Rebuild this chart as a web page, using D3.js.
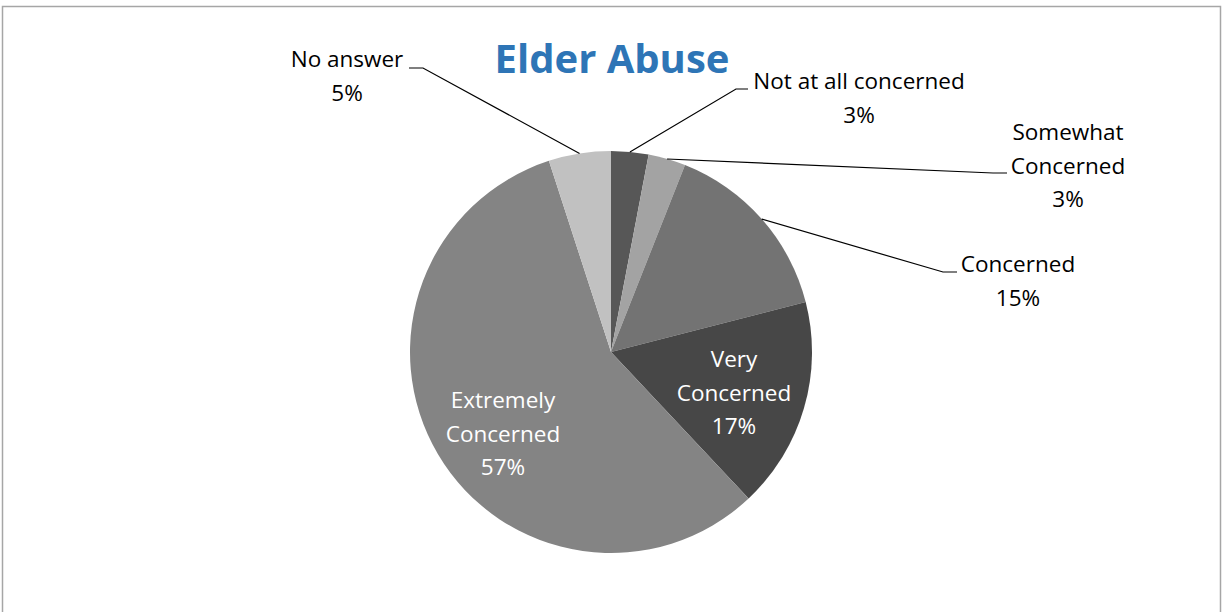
<!DOCTYPE html>
<html>
<head>
<meta charset="utf-8">
<script src="https://cdn.jsdelivr.net/npm/d3@7"></script>
<style>
  html, body { margin: 0; padding: 0; background: #fff; }
  svg { display: block; }
  text { font-family: "Open Sans", "Liberation Sans", sans-serif; }
</style>
</head>
<body>
<svg id="chart" width="1225" height="612"></svg>
<script>
// Survey answers, drawn clockwise from 12 o'clock
const categories = ["Not at all concerned", "Somewhat Concerned", "Concerned", "Very Concerned", "Extremely Concerned", "No answer"];
const percents   = [3, 3, 15, 17, 57, 5];
const sliceColors = ["#575757", "#a3a3a3", "#737373", "#474747", "#848484", "#c1c1c1"];
const titleText = "Elder Abuse";

// Label layout: outside labels get a leader line, inside labels are white
const labelLayout = [
  { lines: ["Not at all concerned", "3%"], x: 859, y: 89,  anchor: [748, 89],  elbow: [736, 89],  inside: false },
  { lines: ["Somewhat", "Concerned", "3%"], x: 1068, y: 140, anchor: [1007, 173], elbow: [993, 173], inside: false },
  { lines: ["Concerned", "15%"], x: 1018, y: 272, anchor: [957, 272], elbow: [943, 272], inside: false },
  { lines: ["Very", "Concerned", "17%"], x: 734, y: 367, inside: true },
  { lines: ["Extremely", "Concerned", "57%"], x: 503, y: 408, inside: true },
  { lines: ["No answer", "5%"], x: 347, y: 67, anchor: [409, 68], elbow: [423, 68], inside: false }
];

const svg = d3.select("#chart");
const cx = 611, cy = 352, radius = 201;
const lineGap = 33.5;

// Chart frame
svg.append("rect")
  .attr("x", 2.5).attr("y", 6.5)
  .attr("width", 1218).attr("height", 640)
  .attr("fill", "none")
  .attr("stroke", "#a6a6a6")
  .attr("stroke-width", 1.5);

const data = categories.map((c, i) => ({ name: c, value: percents[i], color: sliceColors[i], layout: labelLayout[i] }));

const pie = d3.pie().sort(null).value(d => d.value);
const arcs = pie(data);
const arc = d3.arc().innerRadius(0).outerRadius(radius);

const g = svg.append("g").attr("transform", `translate(${cx},${cy})`);

g.selectAll("path.slice")
  .data(arcs)
  .join("path")
  .attr("class", "slice")
  .attr("d", arc)
  .attr("fill", d => d.data.color);

// Leader lines from the outer arc midpoint to each outside label
arcs.filter(d => !d.data.layout.inside).forEach(d => {
  const mid = (d.startAngle + d.endAngle) / 2;
  const p0 = [cx + radius * Math.sin(mid), cy - radius * Math.cos(mid)];
  const L = d.data.layout;
  svg.append("polyline")
    .attr("points", [p0, L.elbow, L.anchor].map(p => p.join(",")).join(" "))
    .attr("fill", "none")
    .attr("stroke", "#000")
    .attr("stroke-width", 1.2);
});

// Labels
arcs.forEach(d => {
  const L = d.data.layout;
  const t = svg.append("text")
    .attr("text-anchor", "middle")
    .attr("font-size", 22.5)
    .attr("fill", L.inside ? "#ffffff" : "#000000");
  L.lines.forEach((ln, i) => {
    t.append("tspan").attr("x", L.x).attr("y", L.y + i * lineGap).text(ln);
  });
});

// Title
svg.append("text")
  .attr("x", 612).attr("y", 73)
  .attr("text-anchor", "middle")
  .attr("font-size", 40)
  .attr("font-weight", "bold")
  .attr("fill", "#2e75b6")
  .text(titleText);
</script>
</body>
</html>
